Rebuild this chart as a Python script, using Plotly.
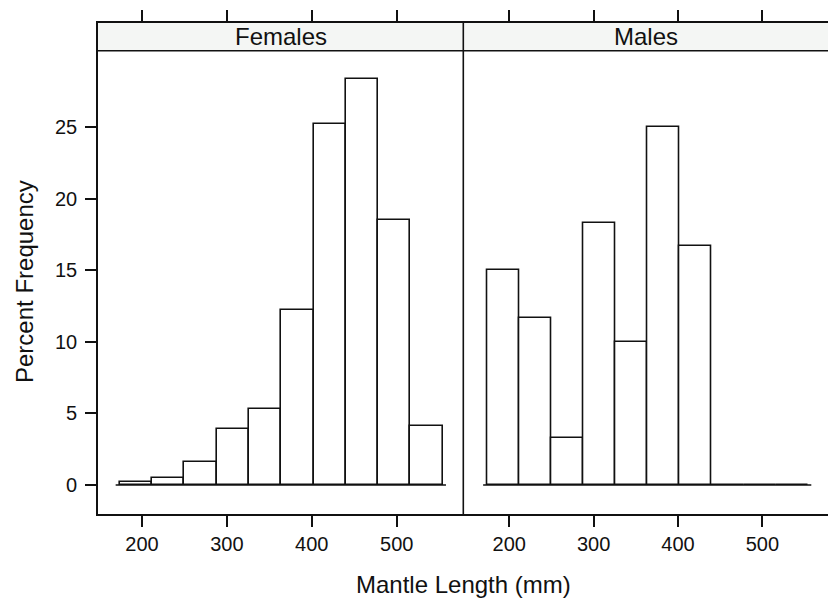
import plotly.graph_objects as go

# histogram bins (mm) and percent frequencies per panel
bin_start = 174
bin_width = 38
females_pct = [0.2, 0.5, 1.6, 3.9, 5.3, 12.2, 25.2, 28.4, 18.5, 4.1]
males_pct = [15.0, 11.7, 3.3, 18.3, 10.0, 25.0, 16.7, 0.0, 0.0, 0.0]
panel_names = ["Females", "Males"]
x_ticks = [200, 300, 400, 500]
y_ticks = [0, 5, 10, 15, 20, 25]

centers = [bin_start + bin_width * (i + 0.5) for i in range(len(females_pct))]
base_x = [bin_start - 5, bin_start + bin_width * len(females_pct) + 4]

W, H = 828, 598
L, R, T, B = 98, 0, 23, 84
pw = W - L - R
ph = H - T - B
split = (463.3 - L) / pw
strip_bot = (514 - 50.7) / ph

ink = "#111111"
font = "Liberation Sans, Arial, sans-serif"

fig = go.Figure()
for vals, xa in [(females_pct, "x"), (males_pct, "x2")]:
    fig.add_trace(go.Bar(x=centers, y=vals, width=bin_width, xaxis=xa, yaxis="y",
                         marker=dict(color="white", line=dict(color=ink, width=1.6)),
                         showlegend=False))
    fig.add_trace(go.Scatter(x=base_x, y=[0, 0], mode="lines", xaxis=xa, yaxis="y",
                             line=dict(color=ink, width=1.6), showlegend=False))

xcommon = dict(tickvals=x_ticks, ticks="outside", ticklen=11, tickwidth=1.6, tickcolor=ink,
               showline=True, linecolor=ink, linewidth=1.6, mirror="ticks",
               showgrid=False, zeroline=False, anchor="y", automargin=False,
               tickfont=dict(size=20, color=ink, family=font))

fig.update_layout(
    width=W, height=H,
    margin=dict(l=L, r=R, t=T, b=B, autoexpand=False),
    paper_bgcolor="white", plot_bgcolor="white",
    bargap=0,
    xaxis=dict(domain=[0, split], range=[148.2, 578.4], **xcommon),
    xaxis2=dict(domain=[split, 1], range=[145.5, 577.8], **xcommon),
    yaxis=dict(range=[-2.03, 32.29], tickvals=y_ticks, ticks="outside", ticklen=11,
               tickwidth=1.6, tickcolor=ink, showline=True, linecolor=ink, linewidth=1.6,
               mirror=False, showgrid=False, zeroline=False, anchor="x",
               ticklabelstandoff=4, automargin=False,
               tickfont=dict(size=20, color=ink, family=font)),
)

shapes = []
for i, name in enumerate(panel_names):
    x0, x1 = (0, split) if i == 0 else (split, 1)
    shapes.append(dict(type="rect", xref="paper", yref="paper", x0=x0, x1=x1,
                       y0=strip_bot, y1=1, fillcolor="#f4f6f4", line=dict(width=0),
                       layer="below"))
    fig.add_annotation(x=(x0 + x1) / 2, y=(strip_bot + 1) / 2, xref="paper", yref="paper",
                       text=name, showarrow=False, xanchor="center", yanchor="middle",
                       font=dict(size=24, color=ink, family=font))
shapes.append(dict(type="line", xref="paper", yref="paper", x0=0, x1=1,
                   y0=strip_bot, y1=strip_bot, line=dict(color=ink, width=1.6)))
shapes.append(dict(type="line", xref="paper", yref="paper", x0=split, x1=split,
                   y0=0, y1=1, line=dict(color=ink, width=1.6)))
fig.update_layout(shapes=shapes)

fig.add_annotation(x=(24 - L) / pw, y=(514 - 282) / ph, xref="paper", yref="paper",
                   text="Percent Frequency", textangle=-90, showarrow=False,
                   xanchor="center", yanchor="middle",
                   font=dict(size=24, color=ink, family=font))
fig.add_annotation(x=(463 - L) / pw, y=(514 - 584) / ph, xref="paper", yref="paper",
                   text="Mantle Length (mm)", showarrow=False,
                   xanchor="center", yanchor="middle",
                   font=dict(size=24, color=ink, family=font))

# drop the default 8px page margin so the figure sits at the window's corner
fig.write_html("out.html", config={"displayModeBar": False},
               post_script="document.body.style.margin='0';")
